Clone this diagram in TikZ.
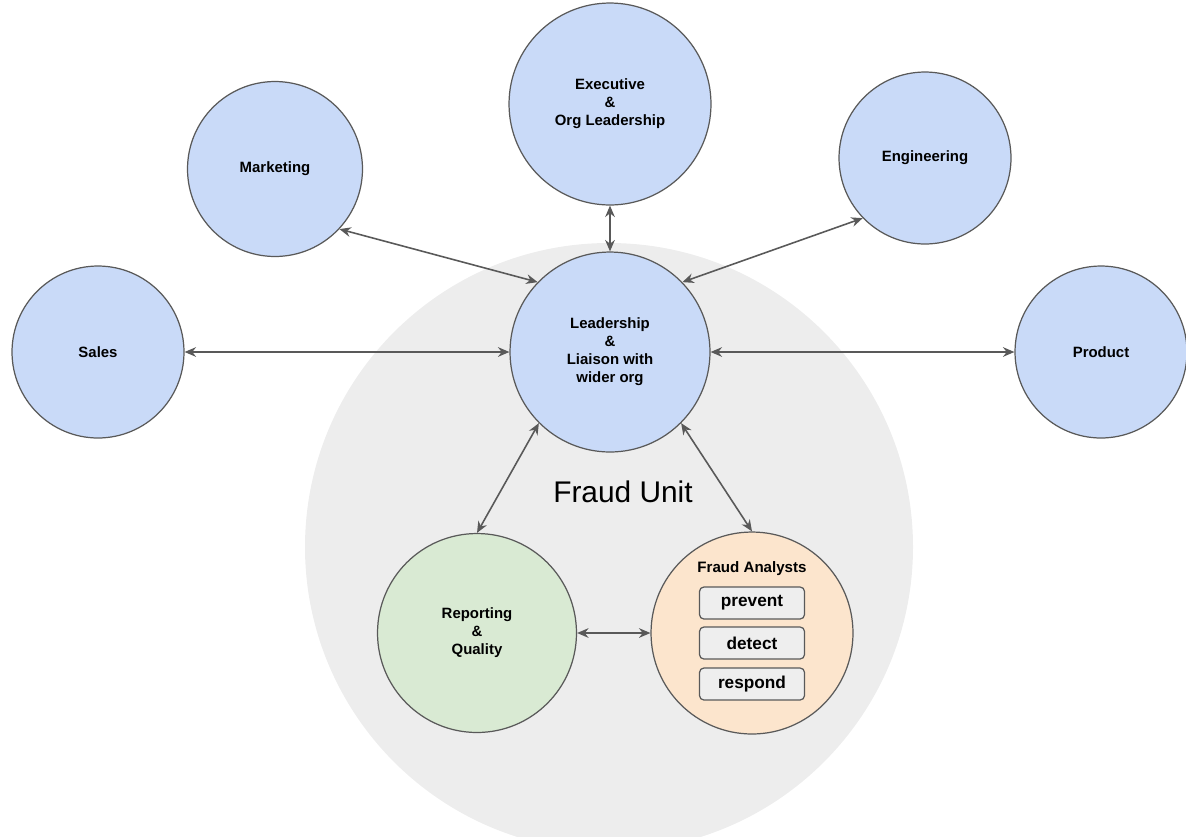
\documentclass[tikz,border=0pt]{standalone}
\usepackage{fontspec}
\setmainfont{Liberation Sans}
\usetikzlibrary{arrows.meta}

\definecolor{bubbleblue}{HTML}{C9DAF8}
\definecolor{bubblegreen}{HTML}{D9EAD3}
\definecolor{bubbleorange}{HTML}{FCE5CD}
\definecolor{unitgray}{HTML}{EDEDED}
\definecolor{edgegray}{HTML}{595959}
\definecolor{boxgray}{HTML}{EEEEEE}

\tikzset{
  bubble/.style={circle, draw=edgegray, line width=0.7pt, fill=bubbleblue,
    align=center, inner sep=0pt, font=\fontsize{8.5}{10.2}\selectfont\bfseries},
  taskbox/.style={draw=edgegray, line width=0.7pt, fill=boxgray, rounded corners=2.5pt,
    minimum width=2.1cm, minimum height=0.64cm, inner sep=0pt,
    font=\fontsize{9.8}{11}\selectfont\bfseries},
  link/.style={{Stealth[length=6.5pt,width=5.5pt]}-{Stealth[length=6.5pt,width=5.5pt]},
    draw=edgegray, line width=0.9pt}
}

\begin{document}
\begin{tikzpicture}[x=0.02cm,y=-0.02cm]
\useasboundingbox (0,0) rectangle (1186,836);

% fraud unit background
\begin{scope}
\clip (0,0) rectangle (1186,836);
\fill[unitgray] (609,547) circle [radius=304];
\end{scope}
\node[font=\fontsize{17}{20}\selectfont] (unit) at (623,492) {Fraud Unit};

% outer org
\node[bubble, minimum size=4.04cm] (exec) at (610,104) {Executive\\\&\\Org Leadership};
\node[bubble, minimum size=3.5cm] (mkt) at (275,169) {Marketing};
\node[bubble, minimum size=3.44cm] (eng) at (925,158) {Engineering};
\node[bubble, minimum size=3.44cm] (sales) at (98,352) {Sales};
\node[bubble, minimum size=3.44cm] (prod) at (1101,352) {Product};

% inside the unit
\node[bubble, minimum size=4cm] (lead) at (610,352) {Leadership\\\&\\Liaison with\\wider org};
\node[bubble, minimum size=3.98cm, fill=bubblegreen] (rep) at (477,633) {Reporting\\\&\\Quality};
\node[bubble, minimum size=4.04cm, fill=bubbleorange] (fa) at (752,633) {};

\node[font=\fontsize{8.6}{10}\selectfont\bfseries] (falabel) at (752,569) {Fraud Analysts};
\node[taskbox] (prevent) at (752,603) {prevent};
\node[taskbox] (detect) at (752,643) {detect};
\node[taskbox] (respond) at (752,684) {respond};

% connectors
\draw[link] (exec.south) -- (lead.north);
\draw[link] (mkt.-43) -- (lead.136);
\draw[link] (lead.44) -- (eng.-136);
\draw[link] (sales.east) -- (lead.west);
\draw[link] (lead.east) -- (prod.west);
\draw[link] (lead.-135) -- (rep.north);
\draw[link] (lead.-45) -- (fa.north);
\draw[link] (rep.east) -- (fa.west);
\end{tikzpicture}
\end{document}
